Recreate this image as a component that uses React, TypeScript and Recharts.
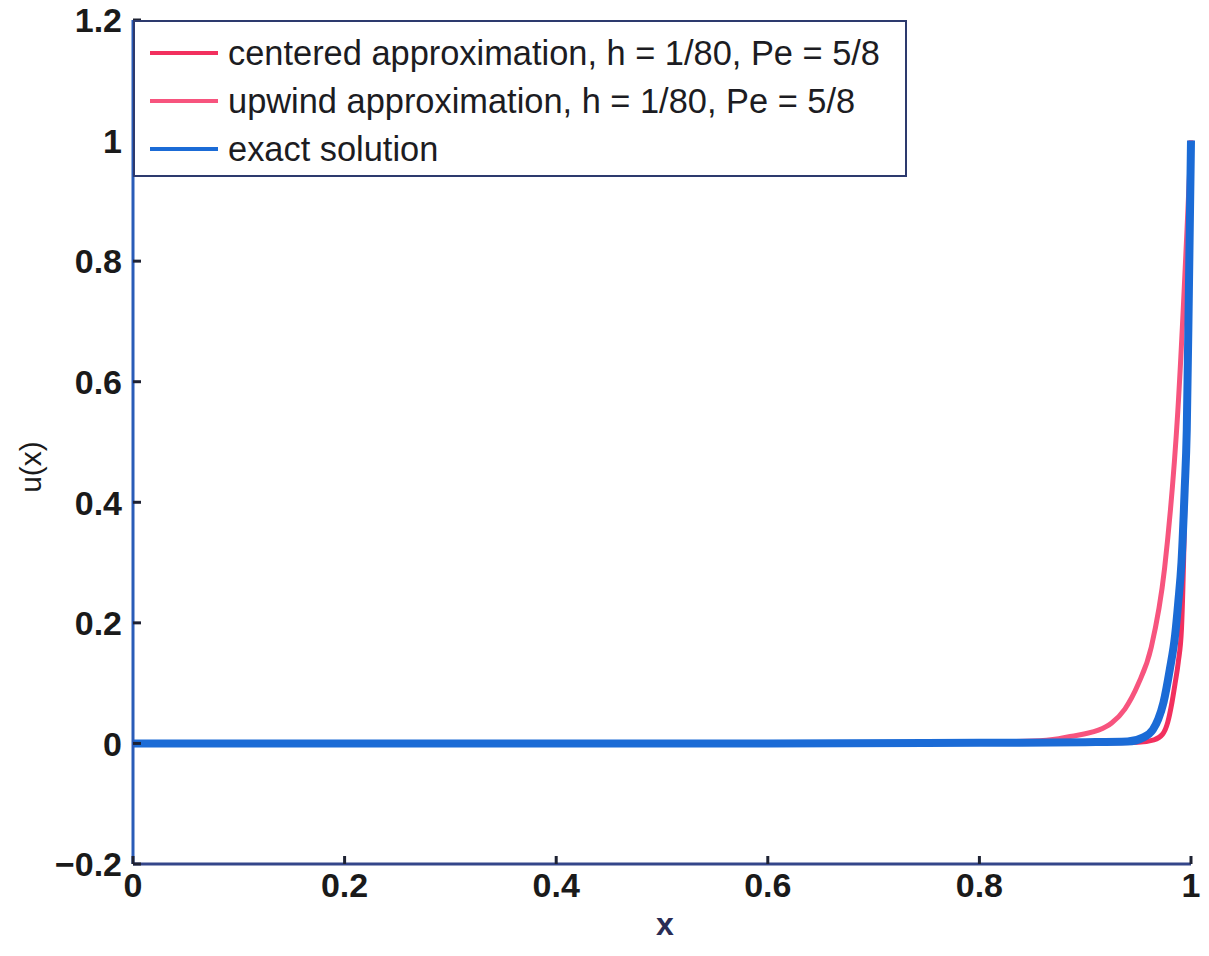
import { LineChart, Line, XAxis, YAxis, Legend } from "recharts";

// grid ticks
const xTicks = [0, 0.2, 0.4, 0.6, 0.8, 1];
const yTicks = [-0.2, 0, 0.2, 0.4, 0.6, 0.8, 1, 1.2];

// centered scheme (steep one near x = 1)
const centeredX = [0, 0.2, 0.4, 0.6, 0.8, 0.9, 0.95, 0.965, 0.973, 0.978, 0.982, 0.985, 0.988, 0.991, 1];
const centeredU = [0, 0, 0, 0, 0, 0.001, 0.002, 0.006, 0.015, 0.035, 0.068, 0.1, 0.135, 0.19, 1];

// upwind scheme (more diffusive)
const upwindX = [0, 0.2, 0.4, 0.6, 0.8, 0.85, 0.875, 0.8875, 0.9, 0.9125, 0.925, 0.9375, 0.95, 0.9625, 0.975, 0.9875, 1];
const upwindU = [0, 0, 0, 0, 0.002, 0.004, 0.008, 0.012, 0.016, 0.022, 0.034, 0.057, 0.098, 0.16, 0.29, 0.55, 1];

// exact solution
const exactX = [0, 0.2, 0.4, 0.6, 0.8, 0.9, 0.94, 0.955, 0.964, 0.969, 0.974, 0.98, 0.985, 0.988, 0.991, 0.994, 0.996, 0.998, 1];
const exactU = [0, 0, 0, 0, 0.001, 0.002, 0.003, 0.01, 0.023, 0.04, 0.068, 0.123, 0.18, 0.235, 0.3, 0.42, 0.52, 0.75, 1];

const seriesNames = [
  "centered approximation, h = 1/80, Pe = 5/8",
  "upwind approximation, h = 1/80, Pe = 5/8",
  "exact solution",
];
const seriesColors = ["#f2305e", "#f7547e", "#1b6bd6"];

const toRows = (xs: number[], us: number[]) => xs.map((x, i) => ({ x, u: us[i] }));
const centeredData = toRows(centeredX, centeredU);
const upwindData = toRows(upwindX, upwindU);
const exactData = toRows(exactX, exactU);

const FONT = "'Liberation Sans', Arial, Helvetica, sans-serif";
const TICK_COLOR = "#1e2233";
const fmt = (v: number) => {
  const s = String(Math.round(v * 10) / 10);
  return s.startsWith("-") ? "\u2212" + s.slice(1) : s;
};

const LeftTick = (props: any) => {
  const { x, y, payload } = props;
  return (
    <g>
      <line x1={x + 11} x2={x + 19} y1={y} y2={y} stroke={TICK_COLOR} strokeWidth={3} />
      <text x={x} y={y} dy="0.36em" textAnchor="end" fontFamily={FONT} fontWeight="bold" fontSize={34} fill="#1a1a1a">
        {fmt(payload.value)}
      </text>
    </g>
  );
};

const RightTick = (props: any) => {
  const { x, y } = props;
  return <line x1={x - 8} x2={x} y1={y} y2={y} stroke={TICK_COLOR} strokeWidth={3} />;
};

const BottomTick = (props: any) => {
  const { x, y, payload } = props;
  return (
    <g>
      <line x1={x} x2={x} y1={y - 8} y2={y - 16} stroke={TICK_COLOR} strokeWidth={3} />
      <text x={x} y={y} dy="0.74em" textAnchor="middle" fontFamily={FONT} fontWeight="bold" fontSize={34} fill="#1a1a1a">
        {fmt(payload.value)}
      </text>
    </g>
  );
};

const TopTick = (props: any) => {
  const { x, y } = props;
  return <line x1={x} x2={x} y1={y} y2={y + 8} stroke={TICK_COLOR} strokeWidth={3} />;
};

const LegendBox = () => (
  <div
    style={{
      position: "relative",
      width: 774,
      height: 157,
      boxSizing: "border-box",
      border: "2px solid #2d3a6e",
      background: "#ffffff",
      fontFamily: FONT,
    }}
  >
    {seriesNames.map((name, i) => (
      <div
        key={name}
        style={{ position: "absolute", left: 15, top: 31 + i * 48, height: 0, display: "flex", alignItems: "center" }}
      >
        <div style={{ width: 68, height: 4, background: seriesColors[i] }} />
        <span style={{ marginLeft: 10, fontSize: 34.4, color: "#1c1c22", whiteSpace: "nowrap" }}>{name}</span>
      </div>
    ))}
  </div>
);

const ULabel = () => (
  <text x={30} y={467} transform="rotate(-90 30 467)" textAnchor="middle" dy="0.36em" fontFamily={FONT} fontSize={30} fill="#1a1a1a">
    u(x)
  </text>
);

const XLabel = () => (
  <text x={665} y={935} textAnchor="middle" fontFamily={FONT} fontWeight="bold" fontSize={32} fill="#2a2d55">
    x
  </text>
);

export default function App() {
  return (
    <div style={{ width: 1209, height: 956, margin: -8, background: "#fff" }}>
      <LineChart width={1209} height={956} margin={{ top: 20, right: 18, bottom: 19, left: 23 }}>
        <XAxis
          type="number"
          dataKey="x"
          domain={[0, 1]}
          ticks={xTicks}
          interval={0}
          allowDuplicatedCategory={false}
          height={73}
          tickSize={0}
          tickMargin={8}
          tickLine={false}
          tick={<BottomTick />}
          axisLine={{ stroke: "#34468a", strokeWidth: 3 }}
          label={<XLabel />}
        />
        <XAxis
          xAxisId="top"
          orientation="top"
          type="number"
          dataKey="x"
          domain={[0, 1]}
          ticks={xTicks}
          interval={0}
          height={0}
          tickSize={0}
          tickMargin={0}
          tickLine={false}
          tick={<TopTick />}
          axisLine={{ stroke: "#3b4a85", strokeWidth: 3 }}
        />
        <YAxis
          type="number"
          domain={[-0.2, 1.2]}
          ticks={yTicks}
          interval={0}
          width={110}
          tickSize={0}
          tickMargin={11}
          tickLine={false}
          tick={<LeftTick />}
          axisLine={{ stroke: "#2a5cb8", strokeWidth: 3 }}
          label={<ULabel />}
        />
        <YAxis
          yAxisId="right"
          orientation="right"
          type="number"
          domain={[-0.2, 1.2]}
          ticks={yTicks}
          interval={0}
          width={0}
          tickSize={0}
          tickMargin={0}
          tickLine={false}
          tick={<RightTick />}
          axisLine={{ stroke: "#1c2030", strokeWidth: 3 }}
        />
        <Legend
          layout="vertical"
          align="center"
          verticalAlign="middle"
          content={<LegendBox />}
          wrapperStyle={{ left: 133, top: 20, width: 774, height: 157 }}
        />
        <Line
          data={upwindData}
          dataKey="u"
          name={seriesNames[1]}
          type="monotone"
          stroke={seriesColors[1]}
          strokeWidth={5}
          dot={false}
          isAnimationActive={false}
        />
        <Line
          data={centeredData}
          dataKey="u"
          name={seriesNames[0]}
          type="monotone"
          stroke={seriesColors[0]}
          strokeWidth={5}
          dot={false}
          isAnimationActive={false}
        />
        <Line
          data={exactData}
          dataKey="u"
          name={seriesNames[2]}
          type="monotone"
          stroke={seriesColors[2]}
          strokeWidth={8}
          dot={false}
          isAnimationActive={false}
        />
      </LineChart>
    </div>
  );
}
